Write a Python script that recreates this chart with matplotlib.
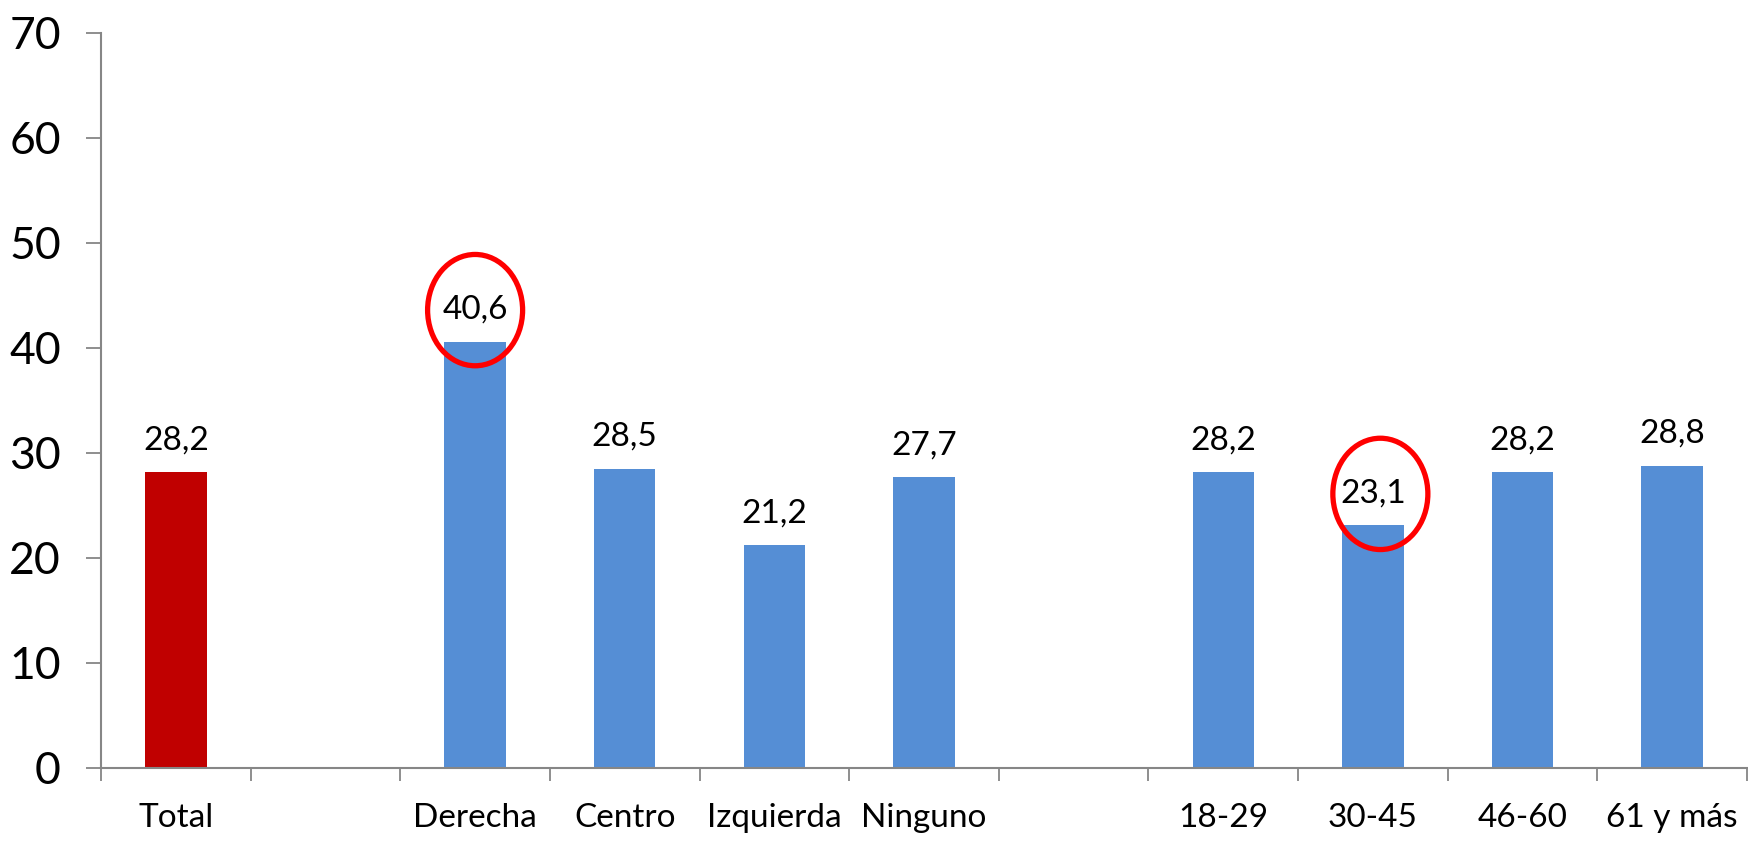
import matplotlib.pyplot as plt
from matplotlib.patches import Ellipse
import numpy as np

categorias = ["Total", "", "Derecha", "Centro", "Izquierda", "Ninguno", "",
              "18-29", "30-45", "46-60", "61 y más"]
valores = [28.2, None, 40.6, 28.5, 21.2, 27.7, None, 28.2, 23.1, 28.2, 28.8]
marcados = ["Derecha", "30-45"]

ROJO = "#C00000"
AZUL = "#558ED5"
GRIS = "#868686"

plt.rcParams['font.family'] = ['Lato', 'DejaVu Sans']

fig = plt.figure(figsize=(17.48, 8.43), dpi=100)
ax = fig.add_axes([0.0578, 0.089, 0.9416, 0.872])

x = np.arange(len(categorias))
for i, (cat, v) in enumerate(zip(categorias, valores)):
    if v is None:
        continue
    color = ROJO if cat == "Total" else AZUL
    ax.bar(i, v, width=0.41, color=color, zorder=2)
    ax.annotate(f"{v:.1f}".replace(".", ","), (i, v), xytext=(0, 12),
                textcoords="offset points", ha="center", va="bottom",
                fontsize=24, color="black")
    if cat in marcados:
        ax.add_patch(Ellipse((i + (0.05 if cat == "30-45" else 0), v + 3.0),
                             width=0.635, height=10.6, fill=False,
                             edgecolor="#FF0000", linewidth=3.8, zorder=3))

ax.set_xlim(-0.5, len(categorias) - 0.5)
ax.set_ylim(0, 70)
ax.set_yticks(range(0, 71, 10))
ax.set_xticks(x)
ax.set_xticklabels(categorias, fontsize=24)
ax.set_xticks(np.arange(-0.5, len(categorias), 1), minor=True)

ax.tick_params(axis='y', labelsize=32, length=11, width=1.3, color=GRIS, pad=18)
ax.tick_params(axis='x', which='major', length=0, pad=25)
ax.tick_params(axis='x', which='minor', length=9, width=1.3, color=GRIS)

for s in ["top", "right"]:
    ax.spines[s].set_visible(False)
for s in ["left", "bottom"]:
    ax.spines[s].set_color(GRIS)
    ax.spines[s].set_linewidth(1.5)

fig.savefig("out.png", dpi=100)
